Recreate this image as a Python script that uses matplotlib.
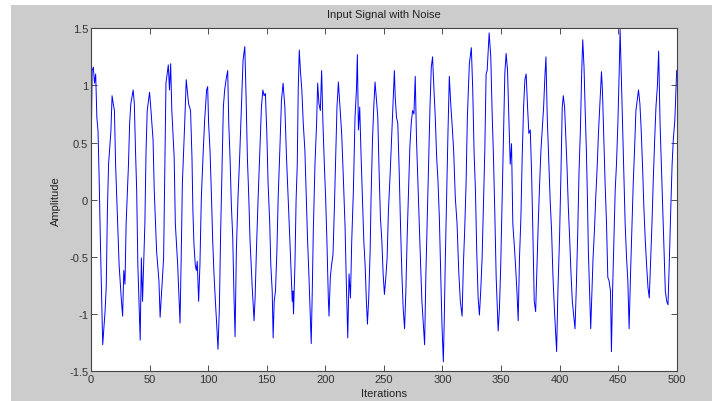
import numpy as np
import matplotlib
matplotlib.use("Agg")
import matplotlib.pyplot as plt
from matplotlib.patches import Rectangle

plt.rcParams["font.family"] = ["Liberation Sans", "DejaVu Sans"]

# noisy input signal, sampled vertices (iteration, amplitude)
iters = np.array([
    0, 1, 2, 3, 4, 5, 6, 7, 8, 9, 10, 12, 13, 14, 15, 17, 18, 19, 20, 21,
    23, 24, 26, 27, 28, 29, 30, 32, 33, 34, 36, 37, 38, 39, 40, 41, 42, 43, 44, 46,
    47, 48, 50, 51, 53, 54, 56, 58, 59, 60, 62, 63, 64, 66, 67, 68, 69, 71, 72, 74,
    76, 77, 78, 80, 81.3, 83.3, 85.0, 86.2, 87.0, 87.9, 89.0, 89.9, 90.7, 91.9, 93.0, 94.2, 95.6, 97.0, 98.7, 99.6,
    100.4, 101.6, 102.7, 103.9, 105.0, 106.2, 107.3, 108.4, 109.6, 110.7, 111.9, 113.0, 114.1, 115.3, 116.7, 117.6, 118.7, 119.8, 121.0, 122.1,
    123.0, 124.1, 125.5, 126.9, 128.4, 129.8, 131.3, 132.4, 133.5, 134.7, 135.8, 137.5, 139.2, 140.1, 141.2, 142.7, 144.4, 145.5, 146.7, 147.8,
    148.9, 150.1, 151.2, 152.6, 153.5, 154.7, 155.5, 156.4, 157.5, 158.7, 159.8, 161.2, 162.6, 164.0, 165.5, 166.9, 168.3, 169.8, 171.2, 171.8,
    172.3, 172.9, 174.1, 175.1, 176.1, 176.9, 177.8, 178.9, 180.0, 181.2, 182.6, 183.8, 184.9, 186.0, 187.2, 188.0, 188.9, 189.8, 191.2, 192.6,
    193.5, 194.6, 195.8, 196.9, 198.0, 199.2, 200.3, 201.4, 202.6, 203.2, 204.3, 205.4, 206.6, 207.7, 208.9, 210.0, 211.2, 212.6, 214.0, 215.4,
    216.9, 218.0, 219.2, 220.3, 221.5, 222.6, 224.0, 225.4, 226.6, 227.4, 228.3, 229.4, 230.6, 231.7, 232.9, 234.0, 235.1, 236.0, 237.1, 238.3,
    239.1, 240.3, 241.4, 242.5, 243.7, 244.8, 246.0, 247.1, 248.3, 249.4, 250.5, 251.7, 252.8, 253.9, 255.4, 256.9, 258.3, 259.0, 259.7, 260.8,
    261.9, 263.1, 264.2, 265.4, 266.5, 267.7, 268.8, 269.9, 271.1, 272.2, 273.4, 274.5, 275.7, 276.8, 277.9, 279.1, 280.2, 281.4, 282.5, 283.7,
    284.8, 285.9, 287.1, 288.2, 289.4, 290.5, 291.6, 292.8, 293.9, 295.1, 296.2, 297.4, 298.5, 299.6, 300.8, 301.6, 302.5, 303.7, 304.8, 305.9,
    307.1, 308.2, 309.6, 311.0, 312.5, 313.9, 315.3, 316.8, 317.9, 319.0, 320.2, 321.3, 323.0, 324.7, 325.9, 327.0, 328.2, 329.3, 330.5, 331.6,
    332.7, 333.9, 335.0, 336.2, 337.3, 338.2, 339.9, 341.3, 342.4, 343.6, 344.7, 345.9, 346.7, 347.6, 348.7, 349.8, 351.0, 352.1, 353.3, 354.4,
    355.6, 356.7, 357.9, 359.0, 360.1, 361.3, 362.4, 363.6, 364.7, 365.8, 367.0, 368.1, 369.3, 370.4, 371.5, 372.7, 373.8, 375.0, 376.1, 377.2,
    378.4, 379.6, 380.7, 381.8, 383.0, 384.1, 385.2, 386.4, 387.5, 388.4, 389.5, 390.9, 392.0, 393.2, 394.3, 395.5, 396.6, 397.5, 398.6, 400.0,
    401.2, 402.3, 403.2, 404.3, 405.2, 406.3, 407.5, 408.6, 409.8, 410.9, 412.3, 413.2, 414.4, 415.5, 416.6, 417.8, 418.9, 419.8, 420.9, 421.8,
    422.9, 423.8, 424.6, 425.8, 426.6, 427.5, 428.6, 429.8, 430.9, 432.1, 433.2, 434.3, 435.8, 436.6, 437.8, 438.9, 440.1, 441.2, 442.3, 443.5,
    444.3, 445.2, 446.3, 447.5, 448.6, 449.8, 450.9, 451.7, 452.9, 453.7, 454.9, 456.0, 457.2, 458.3, 459.4, 460.6, 461.7, 462.9, 464.0, 465.2,
    466.3, 467.4, 468.6, 469.7, 470.9, 472.0, 473.2, 474.3, 475.5, 476.6, 477.8, 478.9, 480.0, 481.2, 482.3, 483.5, 484.6, 485.8, 486.9, 488.0,
    489.2, 490.3, 491.5, 492.6, 493.8, 494.9, 496.1, 497.2, 498.4, 499.5, 500,
])
amplitude = np.array([
    0.31, 1.13, 1.16, 1.02, 1.10, 0.72, 0.60, 0.17, -0.36, -0.80, -1.27, -0.98, -0.77, -0.10, 0.31, 0.60, 0.91, 0.84, 0.78, 0.31,
    -0.27, -0.57, -0.89, -1.02, -0.62, -0.74, -0.21, 0.31, 0.67, 0.84, 0.96, 0.84, 0.43, 0.08, -0.57, -0.89, -1.23, -0.51, -0.89, -0.21,
    0.43, 0.78, 0.94, 0.81, 0.52, 0.08, -0.45, -0.71, -1.03, -0.86, -0.51, 0.23, 1.02, 1.18, 0.96, 1.19, 0.78, 0.37, -0.21, -0.57,
    -1.08, -0.51, 0.14, 0.67, 1.05, 0.84, 0.78, 0.37, -0.10, -0.39, -0.57, -0.62, -0.54, -0.89, -0.57, 0.02, 0.37, 0.69, 0.96, 0.99,
    0.67, 0.43, 0.08, -0.36, -0.65, -0.89, -1.09, -1.31, -0.95, -0.27, 0.31, 0.81, 0.96, 1.05, 1.13, 0.67, 0.37, -0.04, -0.33, -0.86,
    -1.20, -0.45, 0.02, 0.37, 0.81, 1.22, 1.34, 0.90, 0.37, 0.02, -0.36, -0.74, -1.06, -0.86, -0.45, 0.02, 0.49, 0.81, 0.96, 0.91,
    0.93, 0.58, 0.14, -0.21, -0.57, -0.80, -1.21, -0.89, -0.80, -0.45, 0.02, 0.43, 0.87, 1.02, 0.81, 0.37, 0.02, -0.36, -0.74, -0.89,
    -0.80, -1.00, -0.57, 0.00, 0.31, 0.96, 1.31, 1.11, 0.96, 0.67, 0.43, 0.02, -0.36, -0.65, -1.00, -1.26, -0.80, -0.27, 0.31, 0.67,
    1.02, 0.84, 0.78, 1.13, 0.67, 0.31, 0.02, -0.36, -0.86, -1.02, -0.68, -0.57, -0.48, -0.10, 0.37, 0.81, 1.03, 0.81, 0.58, 0.20,
    -0.24, -0.74, -1.21, -0.65, -0.86, -0.36, 0.08, 0.72, 0.96, 1.27, 0.61, 0.81, 0.37, 0.02, -0.36, -0.57, -0.89, -1.09, -0.86, -0.45,
    0.02, 0.52, 0.81, 1.03, 0.87, 0.73, 0.23, -0.16, -0.36, -0.65, -0.83, -0.68, -0.51, -0.10, 0.23, 0.61, 0.96, 1.13, 0.90, 0.72,
    0.67, 0.25, -0.21, -0.65, -0.95, -1.13, -0.80, -0.33, 0.08, 0.46, 0.67, 0.78, 0.75, 1.08, 0.52, 0.14, -0.21, -0.57, -0.89, -1.09,
    -1.27, -0.65, -0.16, 0.31, 0.81, 1.16, 1.25, 0.96, 0.72, 0.37, 0.17, -0.16, -0.62, -1.09, -1.42, -1.04, -0.51, 0.08, 0.61, 1.08,
    0.84, 0.67, 0.43, 0.02, -0.21, -0.62, -0.89, -1.02, -0.57, -0.27, 0.14, 0.72, 1.19, 1.33, 0.96, 0.43, 0.08, -0.45, -0.86, -1.01,
    -0.80, -0.51, -0.07, 0.43, 1.10, 1.13, 1.46, 1.25, 0.78, 0.37, -0.10, -0.68, -0.89, -1.15, -0.95, -0.57, 0.02, 0.52, 1.11, 1.28,
    1.13, 0.72, 0.31, 0.49, -0.21, -0.39, -0.57, -0.80, -1.06, -0.51, -0.16, 0.37, 0.81, 1.05, 1.10, 0.81, 0.58, 0.61, 0.25, -0.27,
    -0.89, -0.98, -0.60, -0.21, 0.14, 0.43, 0.61, 0.81, 1.08, 1.25, 0.72, 0.31, -0.01, -0.27, -0.65, -0.94, -1.15, -1.33, -0.80, -0.33,
    0.23, 0.81, 0.91, 0.81, 0.58, 0.31, -0.07, -0.33, -0.65, -0.89, -1.04, -1.13, -0.74, -0.30, 0.23, 0.61, 1.11, 1.40, 1.16, 0.81,
    0.43, 0.02, -0.45, -0.86, -1.13, -0.86, -0.51, -0.27, 0.02, 0.28, 0.58, 0.81, 1.12, 0.96, 0.52, 0.14, -0.21, -0.68, -0.71, -0.80,
    -1.33, -0.83, -0.39, 0.08, 0.31, 0.67, 1.11, 1.49, 1.02, 0.67, 0.23, -0.21, -0.51, -0.71, -1.13, -0.65, -0.27, 0.14, 0.43, 0.78,
    0.87, 0.96, 0.84, 0.61, 0.28, -0.07, -0.36, -0.57, -0.77, -0.86, -0.51, -0.21, 0.17, 0.52, 0.81, 0.99, 1.30, 0.67, 0.31, -0.07,
    -0.45, -0.80, -0.89, -0.92, -0.51, -0.10, 0.31, 0.54, 0.69, 1.01, 1.13,
])

xticks = np.arange(0, 501, 50)
yticks = np.arange(-1.5, 1.51, 0.5)
ytick_labels = ["-1.5", "-1", "-0.5", "0", "0.5", "1", "1.5"]

fig = plt.figure(figsize=(7.12, 4.02), dpi=100)
fig.patch.set_facecolor("white")
# grey window background
fig.patches.append(Rectangle((11 / 712, 0), 1 - 11 / 712, 1 - 6 / 402,
                             transform=fig.transFigure, facecolor="#cccccc",
                             edgecolor="none", zorder=-10))

ax = fig.add_axes([0.1278, 0.0746, 0.8226, 0.8525])
ax.plot(iters, amplitude, color="#0000ff", linewidth=0.7)

ax.set_xlim(0, 500)
ax.set_ylim(-1.5, 1.5)
ax.set_xticks(xticks)
ax.set_yticks(yticks)
ax.set_yticklabels(ytick_labels)
ax.tick_params(direction="in", length=4, width=0.6, colors="#333333",
               labelsize=8, top=True, right=True, pad=2)
for s in ax.spines.values():
    s.set_color("#444444")
    s.set_linewidth(0.8)

ax.set_title("Input Signal with Noise", fontsize=8, color="#222222", pad=8)
ax.set_xlabel("Iterations", fontsize=8, color="#222222", labelpad=3)
ax.set_ylabel("Amplitude", fontsize=8, color="#222222", labelpad=6)

fig.savefig("out.png", dpi=100)
